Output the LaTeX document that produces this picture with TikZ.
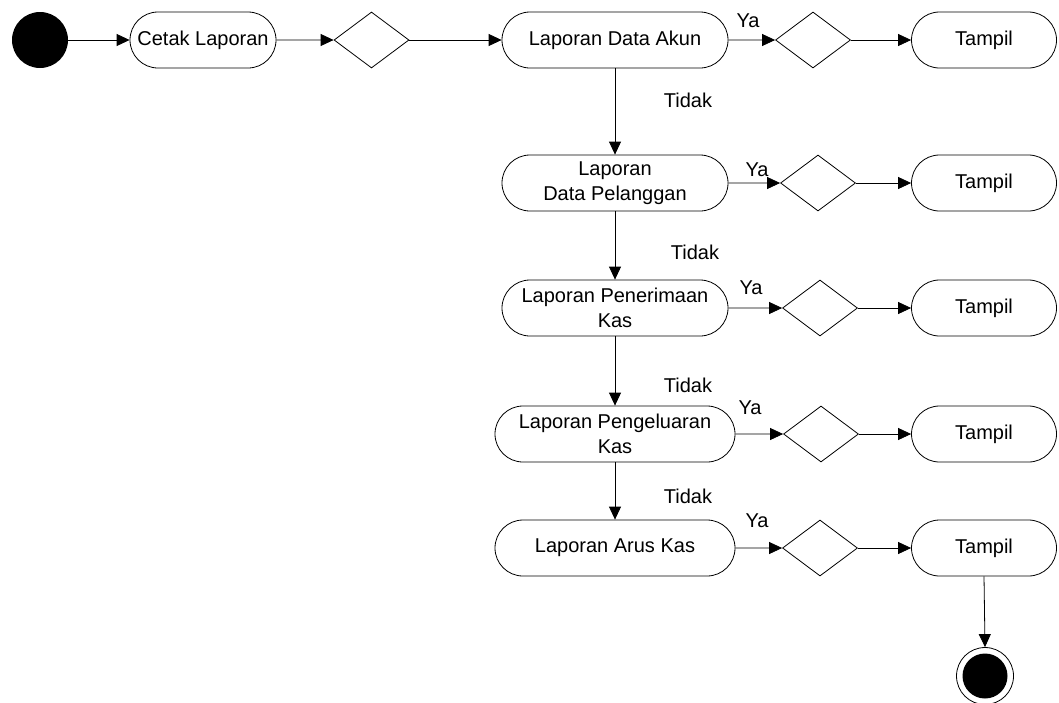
\documentclass[tikz,border=0pt]{standalone}
\usepackage{fontspec}
\setmainfont{Liberation Sans}
\usetikzlibrary{shapes.geometric,shapes.misc,arrows.meta}
\begin{document}
\begin{tikzpicture}[x=1pt,y=1pt,
  act/.style={draw, rounded rectangle, minimum height=56pt, inner sep=2pt, line width=0.8pt, align=center, font=\fontsize{20}{25}\selectfont},
  dec/.style={draw, diamond, minimum width=75pt, minimum height=56pt, inner sep=0pt, line width=0.8pt},
  arr/.style={line width=0.8pt, -{Triangle[length=13pt,width=12pt]}},
  lbl/.style={font=\fontsize{20}{25}\selectfont, inner sep=0pt}]
\useasboundingbox (0,0) rectangle (1059,-702);
% start
\node[circle, fill=black, minimum size=56pt, inner sep=0pt] (start) at (40,-40) {};
\node[act, minimum width=150pt] (cetak) at (203,-40) {Cetak Laporan};
\node[dec] (d0) at (371.5,-40) {};
% row 1
\node[act, minimum width=230pt] (r1) at (615,-40) {Laporan Data Akun};
\node[dec] (d1) at (813,-40) {};
\node[act, minimum width=149pt] (t1) at (984,-40) {Tampil};
% row 2
\node[act, minimum width=230pt] (r2) at (615,-183) {Laporan\\Data Pelanggan};
\node[dec] (d2) at (818,-183) {};
\node[act, minimum width=149pt] (t2) at (984,-183) {Tampil};
% row 3
\node[act, minimum width=230pt] (r3) at (615,-308) {Laporan Penerimaan\\Kas};
\node[dec] (d3) at (820,-308) {};
\node[act, minimum width=149pt] (t3) at (984,-308) {Tampil};
% row 4
\node[act, minimum width=244pt] (r4) at (615,-434) {Laporan Pengeluaran\\Kas};
\node[dec] (d4) at (821,-434) {};
\node[act, minimum width=149pt] (t4) at (984,-434) {Tampil};
% row 5
\node[act, minimum width=244pt] (r5) at (615,-548) {Laporan Arus Kas};
\node[dec] (d5) at (820,-548) {};
\node[act, minimum width=149pt] (t5) at (984,-548) {Tampil};
% end
\node[circle, draw, line width=0.8pt, minimum size=57pt, inner sep=0pt] (end) at (985,-676) {};
\node[circle, fill=black, minimum size=45pt, inner sep=0pt] (endin) at (end.center) {};
% connectors
\draw[arr] (start) -- (cetak);
\draw[arr] (cetak) -- (d0);
\draw[arr] (d0) -- (r1);
\foreach \i in {1,...,5}{
  \draw[arr] (r\i) -- (d\i);
  \draw[arr] (d\i) -- (t\i);
}
\draw[arr] (r1.south) -- (r2.north);
\draw[arr] (r2.south) -- (r3.north);
\draw[arr] (r3.south) -- (r4.north);
\draw[arr] (r4.south) -- (r5.north);
\draw[arr] (t5.south) -- (end.north);
% labels
\node[lbl] (ya1) at (748,-21) {Ya};
\node[lbl] (ya2) at (757,-170) {Ya};
\node[lbl] (ya3) at (751,-288) {Ya};
\node[lbl] (ya4) at (750,-408) {Ya};
\node[lbl] (ya5) at (757,-521) {Ya};
\node[lbl] (td1) at (688,-100) {Tidak};
\node[lbl] (td2) at (695,-252) {Tidak};
\node[lbl] (td3) at (688,-385) {Tidak};
\node[lbl] (td4) at (688,-496) {Tidak};
\end{tikzpicture}
\end{document}
